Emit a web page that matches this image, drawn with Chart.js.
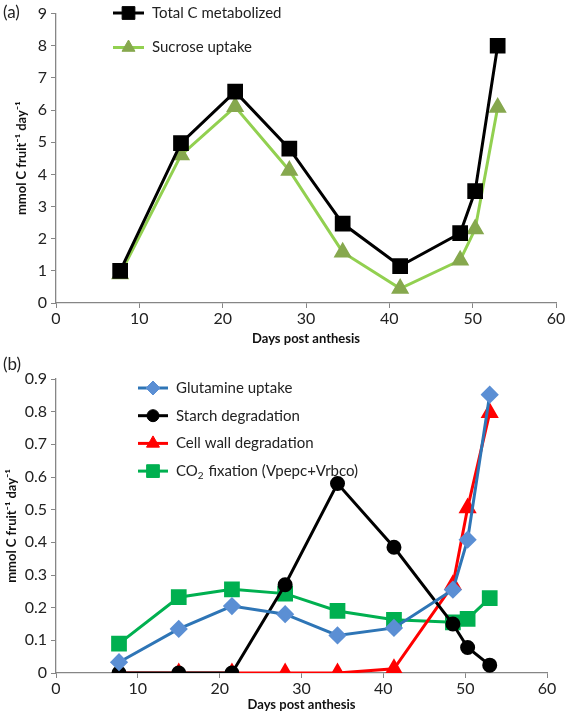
<!DOCTYPE html>
<html>
<head>
<meta charset="utf-8">
<script src="https://cdn.jsdelivr.net/npm/chart.js@4/dist/chart.umd.min.js"></script>
<style>
  html, body { margin: 0; padding: 0; background: #fff; }
  #wrapA { position: absolute; left: 0; top: 0; width: 568px; height: 350px; }
  #wrapB { position: absolute; left: 0; top: 350px; width: 568px; height: 366px; }
</style>
</head>
<body>
<div id="wrapA"><canvas id="chartA"></canvas></div>
<div id="wrapB"><canvas id="chartB"></canvas></div>
<script>
// days post anthesis (x values, shared by both panels)
const days = [7.7, 15, 21.5, 28, 34.4, 41.3, 48.5, 50.3, 53];

// panel (a)
const totalC = [1.0, 4.97, 6.57, 4.8, 2.47, 1.15, 2.17, 3.48, 8.0];
const sucroseUptake = [0.9, 4.6, 6.1, 4.12, 1.58, 0.45, 1.33, 2.3, 6.08];

// panel (b)
const glutamineUptake = [0.033, 0.135, 0.205, 0.18, 0.115, 0.138, 0.255, 0.408, 0.852];
const starchDegradation = [0, 0, 0, 0.27, 0.58, 0.385, 0.15, 0.078, 0.024];
const cellWallDegradation = [0, 0, 0, 0, 0, 0.013, 0.27, 0.505, 0.797];
const co2Fixation = [0.09, 0.232, 0.256, 0.243, 0.19, 0.163, 0.155, 0.166, 0.229];

const xTicks = [0, 10, 20, 30, 40, 50, 60];
const yTicksA = [0, 1, 2, 3, 4, 5, 6, 7, 8, 9];
const yTicksB = [0, 0.1, 0.2, 0.3, 0.4, 0.5, 0.6, 0.7, 0.8, 0.9];

const FONT = 'Lato, "Open Sans", sans-serif';
const AXIS = '#868686';
const yTitle = 'mmol C fruit\u207B\u00B9 day\u207B\u00B9';

const toXY = (vals) => vals.map((v, i) => ({ x: days[i], y: v }));

// custom legend + panel letter, drawn inside the canvas
const panelDecor = {
  id: 'panelDecor',
  afterDraw(chart, args, opts) {
    const ctx = chart.ctx;
    ctx.save();
    ctx.fillStyle = '#222';
    ctx.font = '17px ' + FONT;
    ctx.textBaseline = 'middle';
    ctx.textAlign = 'left';
    ctx.fillText(opts.letter, 3, opts.letterY);

    const lf = '15px ' + FONT;
    chart.data.datasets.forEach((ds, i) => {
      const y = opts.y0 + i * opts.dy;
      ctx.strokeStyle = ds.borderColor;
      ctx.lineWidth = ds.borderWidth;
      ctx.beginPath();
      ctx.moveTo(opts.x1, y);
      ctx.lineTo(opts.x2, y);
      ctx.stroke();
      ctx.fillStyle = ds.pointBackgroundColor;
      ctx.strokeStyle = ds.pointBorderColor;
      ctx.lineWidth = 1;
      Chart.helpers.drawPoint(ctx, {
        pointStyle: ds.pointStyle,
        radius: ds.pointRadius,
        borderWidth: 1,
        rotation: 0
      }, (opts.x1 + opts.x2) / 2, y);
      ctx.fillStyle = '#222';
      ctx.font = lf;
      if (ds.legendSub) {
        // CO2 with subscript
        let x = opts.x2 + 8;
        ctx.fillText('CO', x, y);
        x += ctx.measureText('CO').width;
        ctx.font = '10px ' + FONT;
        ctx.fillText('2', x, y + 5);
        x += ctx.measureText('2').width + 1;
        ctx.font = lf;
        ctx.fillText(ds.legendSub, x, y);
      } else {
        ctx.fillText(ds.label, opts.x2 + 8, y);
      }
    });
    ctx.restore();
  }
};

function makeScales(yTicks, yMax, xH, titlePad, fmt) {
  return {
    x: {
      type: 'linear', min: 0, max: 60,
      afterBuildTicks: (s) => { s.ticks = xTicks.map(v => ({ value: v })); },
      afterFit: (s) => { s.height = xH; },
      border: { color: AXIS, width: 1.3 },
      grid: { drawOnChartArea: false, drawTicks: true, tickLength: 5, color: AXIS },
      ticks: { color: '#222', font: { family: FONT, size: 16 }, padding: 1, maxRotation: 0 },
      title: { display: true, text: 'Days post anthesis', color: '#111',
               font: { family: FONT, size: 13, weight: 'bold' }, padding: { top: 2, bottom: 3 } }
    },
    y: {
      type: 'linear', min: 0, max: yMax,
      afterBuildTicks: (s) => { s.ticks = yTicks.map(v => ({ value: v })); },
      afterFit: (s) => { s.width = 56; },
      border: { color: AXIS, width: 1.3 },
      grid: { drawOnChartArea: false, drawTicks: true, tickLength: 5, color: AXIS },
      ticks: { color: '#222', font: { family: FONT, size: 16 }, padding: 4, callback: fmt },
      title: { display: true, text: yTitle, color: '#111',
               font: { family: FONT, size: 13, weight: 'bold' }, padding: { top: titlePad, bottom: 0 } }
    }
  };
}

new Chart(document.getElementById('chartA'), {
  type: 'line',
  data: {
    datasets: [
      {
        label: 'Total C metabolized', data: toXY(totalC),
        borderColor: '#000', borderWidth: 3,
        pointStyle: 'rect', pointRadius: 9, pointBackgroundColor: '#000', pointBorderColor: '#000'
      },
      {
        label: 'Sucrose uptake', data: toXY(sucroseUptake),
        borderColor: '#92d050', borderWidth: 3,
        pointStyle: 'triangle', pointRadius: 7.5, pointBackgroundColor: '#86a84e', pointBorderColor: '#86a84e'
      }
    ]
  },
  options: {
    responsive: true, maintainAspectRatio: false, animation: false,
    layout: { padding: { left: 0, right: 10, top: 10, bottom: 0 } },
    plugins: {
      legend: { display: false }, tooltip: { enabled: false },
      panelDecor: { letter: '(a)', letterY: 13, x1: 113, x2: 144, y0: 13, dy: 34.5 }
    },
    scales: makeScales(yTicksA, 9, 47, 14, (v) => String(v))
  },
  plugins: [panelDecor]
});

new Chart(document.getElementById('chartB'), {
  type: 'line',
  data: {
    datasets: [
      {
        label: 'Glutamine uptake', data: toXY(glutamineUptake),
        borderColor: '#2e75b6', borderWidth: 3,
        pointStyle: 'rectRot', pointRadius: 7, pointBackgroundColor: '#5b8fd4', pointBorderColor: '#5b8fd4'
      },
      {
        label: 'Starch degradation', data: toXY(starchDegradation),
        borderColor: '#000', borderWidth: 3,
        pointStyle: 'circle', pointRadius: 6, pointBackgroundColor: '#000', pointBorderColor: '#000'
      },
      {
        label: 'Cell wall degradation', data: toXY(cellWallDegradation),
        borderColor: '#ff0000', borderWidth: 3,
        pointStyle: 'triangle', pointRadius: 7.5, pointBackgroundColor: '#ff0000', pointBorderColor: '#ff0000'
      },
      {
        label: 'CO2 fixation (Vpepc+Vrbco)', legendSub: ' fixation (Vpepc+Vrbco)', data: toXY(co2Fixation),
        borderColor: '#00b050', borderWidth: 3,
        pointStyle: 'rect', pointRadius: 9, pointBackgroundColor: '#00b050', pointBorderColor: '#00b050'
      }
    ]
  },
  options: {
    responsive: true, maintainAspectRatio: false, animation: false,
    layout: { padding: { left: 0, right: 21, top: 29, bottom: 0 } },
    plugins: {
      legend: { display: false }, tooltip: { enabled: false },
      panelDecor: { letter: '(b)', letterY: 15, x1: 138, x2: 168, y0: 38, dy: 27.7 }
    },
    scales: makeScales(yTicksB, 0.9, 43, 4, (v) => v === 0 ? '0' : v.toFixed(1))
  },
  plugins: [panelDecor]
});
</script>
</body>
</html>
